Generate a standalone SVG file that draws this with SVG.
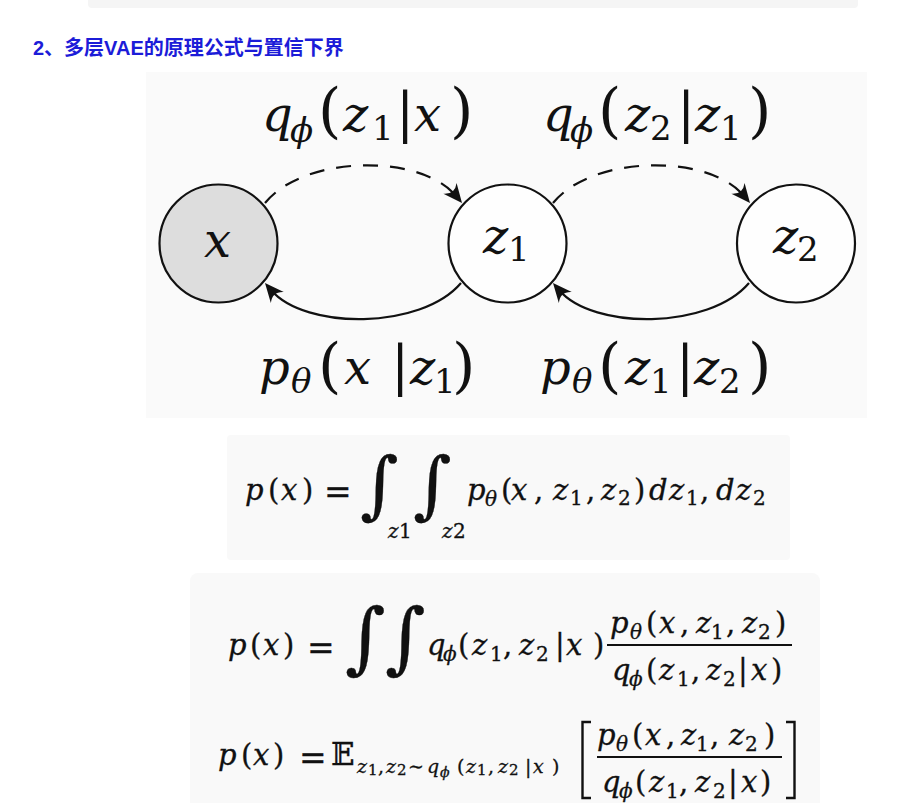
<svg xmlns="http://www.w3.org/2000/svg" width="922" height="803" viewBox="0 0 922 803">
<style>
.m{font-family:'DejaVu Serif',serif;fill:#111}
.i{font-style:italic}
.f text{stroke:#111;stroke-width:0.3}
.title{font-family:'Liberation Sans','Noto Sans CJK SC',sans-serif;font-weight:bold;font-size:20px;fill:#1c1cd8}
.node{stroke:#111;stroke-width:2.2}
.conn{fill:none;stroke:#111;stroke-width:2.2}
.dash{stroke-dasharray:15 12}
.bar{stroke:#111;stroke-width:1.8}
.brk{fill:none;stroke:#111;stroke-width:2.4}
</style>
<defs>
<path id="ah" d="M0,0 L-19,-8.5 Q-11,0 -19,8.5 Z" fill="#111"/>
</defs>
<rect width="922" height="803" fill="#ffffff"/>
<g id="panels">
<rect x="88" y="-10" width="770" height="18" rx="4" fill="#f5f5f5"/>
<rect x="146" y="72" width="721" height="346" fill="#fafafa"/>
<rect x="227" y="435" width="563" height="125" rx="4" fill="#f9f9f9"/>
<rect x="190" y="573" width="630" height="240" rx="8" fill="#f9f9f9"/>
</g>
<text id="title" class="title" x="33" y="55">2、多层VAE的原理公式与置信下界</text>
<g id="connectors">
<path class="conn dash" d="M265,203 C305,154 422,154 456,196"/>
<path class="conn" d="M461,283 C421,330 305,330 271,290"/>
<path class="conn dash" d="M553,203 C593,154 710,154 744,196"/>
<path class="conn" d="M749,283 C709,330 593,330 559,290"/>
<use href="#ah" transform="translate(462,203) rotate(50.8)"/>
<use href="#ah" transform="translate(265,283) rotate(229.6)"/>
<use href="#ah" transform="translate(750,203) rotate(50.8)"/>
<use href="#ah" transform="translate(553,283) rotate(229.6)"/>
</g>
<g id="node-x">
<circle class="node" cx="218.5" cy="243.5" r="59" fill="#dddddd"/>
<text class="m i" x="204" y="257" font-size="48">x</text>
</g>
<g id="node-z1">
<circle class="node" cx="507.5" cy="243.5" r="59" fill="#fefefe"/>
<text class="m"><tspan class="i" x="483" y="253" font-size="48">z</tspan><tspan x="508" y="261" font-size="34">1</tspan></text>
</g>
<g id="node-z2">
<circle class="node" cx="796" cy="243.5" r="59" fill="#fefefe"/>
<text class="m"><tspan class="i" x="773" y="253" font-size="48">z</tspan><tspan x="797" y="261" font-size="34">2</tspan></text>
</g>
<g id="edge-labels">
<text class="m" id="lbl-q1"><tspan class="i" x="262" y="131" font-size="48">q</tspan><tspan class="i" x="290" y="142" font-size="34">ϕ</tspan><tspan x="318" y="131" font-size="60">(</tspan><tspan class="i" x="343" y="131" font-size="48">z</tspan><tspan x="372" y="140" font-size="34">1</tspan><tspan x="396" y="131" font-size="54">|</tspan><tspan class="i" x="414" y="131" font-size="48">x</tspan><tspan x="450" y="131" font-size="60">)</tspan></text>
<text class="m" id="lbl-q2"><tspan class="i" x="543" y="131" font-size="48">q</tspan><tspan class="i" x="570" y="142" font-size="34">ϕ</tspan><tspan x="598" y="131" font-size="60">(</tspan><tspan class="i" x="625" y="131" font-size="48">z</tspan><tspan x="650" y="140" font-size="34">2</tspan><tspan x="677" y="131" font-size="54">|</tspan><tspan class="i" x="695" y="131" font-size="48">z</tspan><tspan x="720" y="140" font-size="34">1</tspan><tspan x="748" y="131" font-size="60">)</tspan></text>
<text class="m" id="lbl-p1"><tspan class="i" x="259" y="384" font-size="48">p</tspan><tspan class="i" x="291" y="393" font-size="34">θ</tspan><tspan x="318" y="386" font-size="60">(</tspan><tspan class="i" x="344" y="384" font-size="48">x</tspan><tspan x="391" y="384" font-size="54">|</tspan><tspan class="i" x="410" y="384" font-size="48">z</tspan><tspan x="434" y="393" font-size="34">1</tspan><tspan x="452" y="386" font-size="60">)</tspan></text>
<text class="m" id="lbl-p2"><tspan class="i" x="540" y="384" font-size="48">p</tspan><tspan class="i" x="572" y="393" font-size="34">θ</tspan><tspan x="598" y="386" font-size="60">(</tspan><tspan class="i" x="625" y="384" font-size="48">z</tspan><tspan x="650" y="393" font-size="34">1</tspan><tspan x="676" y="384" font-size="54">|</tspan><tspan class="i" x="694" y="384" font-size="48">z</tspan><tspan x="719" y="393" font-size="34">2</tspan><tspan x="748" y="386" font-size="60">)</tspan></text>
</g>
<g id="formula-1" class="f">
<text class="m" font-size="29"><tspan class="i" x="245" y="500">p</tspan><tspan x="268" y="500">(</tspan><tspan class="i" x="281" y="500">x</tspan><tspan x="302" y="500">)</tspan><tspan x="324" y="503" font-size="33">=</tspan></text>
<text class="m"><tspan class="i" x="360" y="510" font-size="74">∫</tspan><tspan class="i" x="388" y="538" font-size="20">z</tspan><tspan x="399" y="538" font-size="20">1</tspan><tspan class="i" x="413" y="510" font-size="74">∫</tspan><tspan class="i" x="442" y="538" font-size="20">z</tspan><tspan x="453" y="538" font-size="20">2</tspan></text>
<text class="m" font-size="29"><tspan class="i" x="467" y="500">p</tspan><tspan class="i" x="485" y="506" font-size="20">θ</tspan><tspan x="501" y="500">(</tspan><tspan class="i" x="511" y="500">x</tspan><tspan x="534" y="500">,</tspan><tspan class="i" x="553" y="500">z</tspan><tspan x="570" y="505" font-size="20">1</tspan><tspan x="586" y="500">,</tspan><tspan class="i" x="601" y="500">z</tspan><tspan x="618" y="505" font-size="20">2</tspan><tspan x="634" y="500">)</tspan><tspan class="i" x="649" y="500">d</tspan><tspan class="i" x="669" y="500">z</tspan><tspan x="686" y="505" font-size="20">1</tspan><tspan x="700" y="500">,</tspan><tspan class="i" x="716" y="500">d</tspan><tspan class="i" x="736" y="500">z</tspan><tspan x="753" y="505" font-size="20">2</tspan></text>
</g>
<g id="formula-2" class="f">
<text class="m" font-size="29"><tspan class="i" x="228" y="655">p</tspan><tspan x="250" y="655">(</tspan><tspan class="i" x="263" y="655">x</tspan><tspan x="283" y="655">)</tspan><tspan x="307" y="659" font-size="33">=</tspan></text>
<text class="m i" font-size="78"><tspan x="345" y="664">∫</tspan><tspan x="385" y="664">∫</tspan></text>
<text class="m" font-size="29"><tspan class="i" x="427" y="655">q</tspan><tspan class="i" x="443" y="661" font-size="20">ϕ</tspan><tspan x="458" y="655">(</tspan><tspan class="i" x="472" y="655">z</tspan><tspan x="490" y="661" font-size="20">1</tspan><tspan x="503" y="655">,</tspan><tspan class="i" x="519" y="655">z</tspan><tspan x="536" y="661" font-size="20">2</tspan><tspan x="555" y="655">|</tspan><tspan class="i" x="566" y="655">x</tspan><tspan x="593" y="655">)</tspan></text>
<text class="m" font-size="29"><tspan class="i" x="610" y="633">p</tspan><tspan class="i" x="630" y="639" font-size="20">θ</tspan><tspan x="646" y="633">(</tspan><tspan class="i" x="659" y="633">x</tspan><tspan x="680" y="633">,</tspan><tspan class="i" x="696" y="633">z</tspan><tspan x="711" y="639" font-size="20">1</tspan><tspan x="726" y="633">,</tspan><tspan class="i" x="742" y="633">z</tspan><tspan x="758" y="639" font-size="20">2</tspan><tspan x="775" y="633">)</tspan></text>
<line class="bar" x1="607" y1="645" x2="792" y2="645"/>
<text class="m" font-size="29"><tspan class="i" x="612" y="680">q</tspan><tspan class="i" x="629" y="686" font-size="20">ϕ</tspan><tspan x="646" y="680">(</tspan><tspan class="i" x="659" y="680">z</tspan><tspan x="677" y="686" font-size="20">1</tspan><tspan x="691" y="680">,</tspan><tspan class="i" x="706" y="680">z</tspan><tspan x="723" y="686" font-size="20">2</tspan><tspan x="738" y="680">|</tspan><tspan class="i" x="751" y="680">x</tspan><tspan x="771" y="680">)</tspan></text>
</g>
<g id="formula-3" class="f">
<text class="m" font-size="29"><tspan class="i" x="218" y="765">p</tspan><tspan x="241" y="765">(</tspan><tspan class="i" x="253" y="765">x</tspan><tspan x="273" y="765">)</tspan><tspan x="299" y="769" font-size="33">=</tspan></text>
<text class="m" x="331" y="765" font-size="31">𝔼</text>
<text class="m" font-size="19"><tspan class="i" x="357" y="773">z</tspan><tspan x="368" y="775" font-size="15">1</tspan><tspan x="378" y="773">,</tspan><tspan class="i" x="386" y="773">z</tspan><tspan x="397" y="775" font-size="15">2</tspan><tspan x="408" y="773">∼</tspan><tspan class="i" x="427" y="773">q</tspan><tspan class="i" x="440" y="777" font-size="14">ϕ</tspan><tspan x="457" y="773">(</tspan><tspan class="i" x="466" y="773">z</tspan><tspan x="477" y="775" font-size="15">1</tspan><tspan x="488" y="773">,</tspan><tspan class="i" x="498" y="773">z</tspan><tspan x="509" y="775" font-size="15">2</tspan><tspan x="525" y="773">|</tspan><tspan class="i" x="533" y="773">x</tspan><tspan x="552" y="773">)</tspan></text>
<path class="brk" d="M591,722 L582.5,722 L582.5,798 L591,798"/>
<path class="brk" d="M786,722 L794.5,722 L794.5,798 L786,798"/>
<text class="m" font-size="29"><tspan class="i" x="597" y="745">p</tspan><tspan class="i" x="616" y="751" font-size="20">θ</tspan><tspan x="632" y="745">(</tspan><tspan class="i" x="645" y="745">x</tspan><tspan x="666" y="745">,</tspan><tspan class="i" x="681" y="745">z</tspan><tspan x="696" y="751" font-size="20">1</tspan><tspan x="710" y="745">,</tspan><tspan class="i" x="729" y="745">z</tspan><tspan x="745" y="751" font-size="20">2</tspan><tspan x="764" y="745">)</tspan></text>
<line class="bar" x1="597" y1="757" x2="782" y2="757"/>
<text class="m" font-size="29"><tspan class="i" x="602" y="792">q</tspan><tspan class="i" x="619" y="798" font-size="20">ϕ</tspan><tspan x="635" y="792">(</tspan><tspan class="i" x="649" y="792">z</tspan><tspan x="666" y="798" font-size="20">1</tspan><tspan x="679" y="792">,</tspan><tspan class="i" x="695" y="792">z</tspan><tspan x="713" y="798" font-size="20">2</tspan><tspan x="728" y="792">|</tspan><tspan class="i" x="741" y="792">x</tspan><tspan x="760" y="792">)</tspan></text>
</g>
</svg>
